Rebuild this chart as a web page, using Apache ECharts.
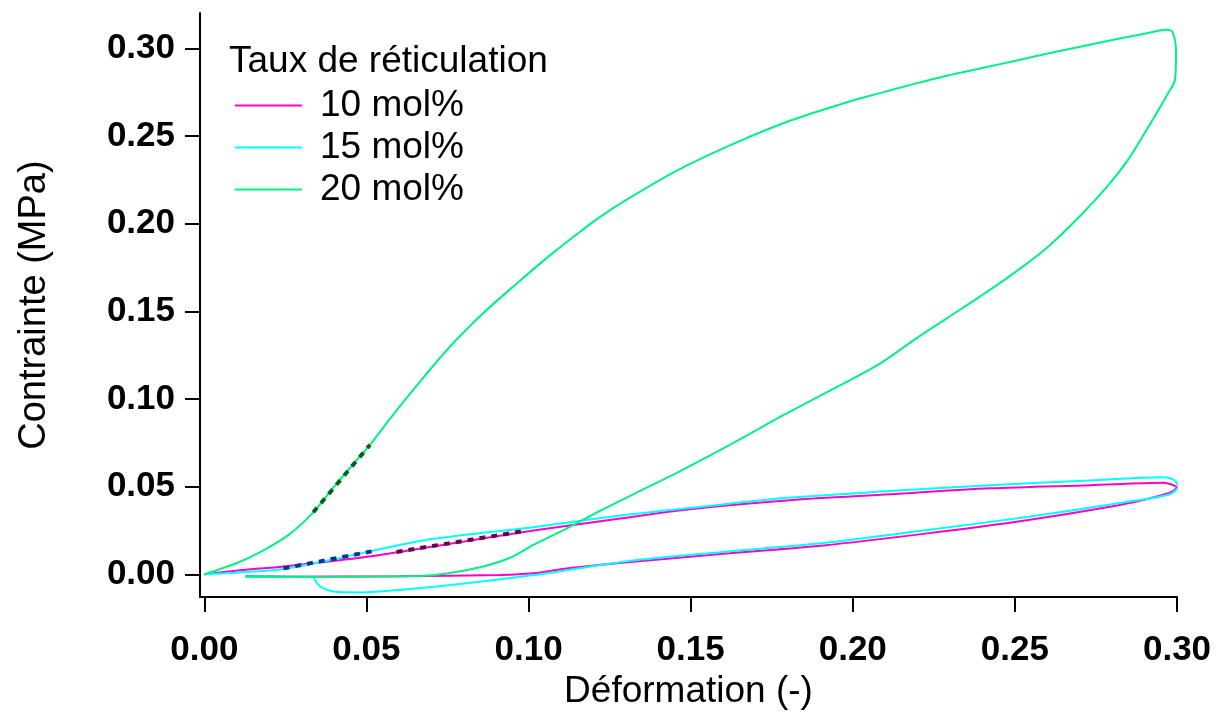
<!DOCTYPE html>
<html>
<head>
<meta charset="utf-8">
<script src="https://cdn.jsdelivr.net/npm/echarts@6/dist/echarts.min.js"></script>
<style>html,body{margin:0;padding:0;background:#fff}#c{width:1217px;height:715px}</style>
</head>
<body>
<div id="c"></div>
<script>
// ---- data (strain, stress MPa) ----
const seriesNames = ['10 mol%', '15 mol%', '20 mol%'];
const xTicks = [0, 0.05, 0.10, 0.15, 0.20, 0.25, 0.30];
const yTicks = [0, 0.05, 0.10, 0.15, 0.20, 0.25, 0.30];

const mol10 = [
  [0,0],[0.011,0.0023],[0.0244,0.0045],[0.0501,0.0100],[0.0758,0.0175],[0.1015,0.0250],
  [0.1272,0.0316],[0.1498,0.0372],[0.1806,0.0423],[0.2115,0.0457],[0.2423,0.0491],
  [0.2732,0.0509],[0.2958,0.0523],[0.2999,0.0495],
  [0.2978,0.0466],[0.2834,0.0400],[0.2526,0.0306],[0.2218,0.0231],[0.1909,0.0165],
  [0.1601,0.0118],[0.1323,0.0072],[0.1118,0.0034],[0.1015,0.0006],[0.0912,-0.0004],
  [0.0604,-0.0011],[0.0295,-0.0013],[0.0126,-0.0010]
];
const mol15 = [
  [0,0],[0.011,0.0011],[0.0244,0.0031],[0.0398,0.0085],[0.0516,0.0134],[0.0706,0.0203],
  [0.1015,0.0269],[0.1272,0.0333],[0.1529,0.0385],[0.1806,0.0438],[0.2115,0.0475],
  [0.2423,0.0509],[0.2732,0.0536],[0.2958,0.0554],[0.2989,0.0541],[0.3004,0.0504],
  [0.2978,0.0457],[0.2834,0.0410],[0.2526,0.0325],[0.2218,0.0250],[0.1909,0.0179],
  [0.1601,0.0128],[0.1323,0.0079],[0.1015,-0.0004],[0.0809,-0.0051],[0.0604,-0.0089],
  [0.0480,-0.0103],[0.0398,-0.0098],[0.0357,-0.0069],[0.0341,-0.0032],[0.0336,-0.0013],
  [0.0233,-0.0013],[0.0126,-0.0011]
];
const mol20 = [
  [0,0],[0.0110,0.0072],[0.0192,0.0147],[0.0264,0.0231],[0.0336,0.0354],[0.0398,0.0495],
  [0.0449,0.0607],[0.0511,0.0739],[0.0573,0.0889],[0.0655,0.1077],[0.0758,0.1300],
  [0.0860,0.1490],[0.0964,0.1660],[0.1066,0.1820],[0.1159,0.1955],[0.1221,0.2040],
  [0.1300,0.2135],[0.1453,0.2300],[0.1630,0.2455],[0.1806,0.2588],[0.1983,0.2694],
  [0.2084,0.2746],[0.2187,0.2797],[0.2290,0.2845],[0.2392,0.2886],[0.2495,0.2928],
  [0.2598,0.2970],[0.2701,0.3011],[0.2804,0.3050],[0.2907,0.3087],[0.2968,0.3107],
  [0.2987,0.3092],[0.2997,0.2976],[0.2994,0.2825],[0.2968,0.2731],[0.2927,0.2600],
  [0.2896,0.2505],[0.2845,0.2355],[0.2783,0.2210],[0.2701,0.2045],[0.2598,0.1862],
  [0.2495,0.1716],[0.2392,0.1585],[0.2290,0.1461],[0.2187,0.1335],[0.2084,0.1203],
  [0.1940,0.1058],[0.1786,0.0908],[0.1632,0.0750],[0.1477,0.0598],[0.1323,0.0457],
  [0.1221,0.0363],[0.1118,0.0262],[0.1015,0.0168],[0.0943,0.0095],[0.0860,0.0045],
  [0.0758,0.0008],[0.0655,-0.0010],[0.0449,-0.0013],[0.0295,-0.0013],[0.0126,-0.0013]
];
// linear fits (dashed)
const fit10 = [[0.0593,0.0128],[0.0994,0.0250]];
const fit15 = [[0.0244,0.0034],[0.0516,0.0131]];
const fit20 = [[0.0336,0.0354],[0.0511,0.0739]];

const colors = ['#ff00cc', '#00ffff', '#00f285'];
const fitColors = ['#5c0a4a', '#0a3296', '#006018'];
const FONT = '"Liberation Sans", Arial, sans-serif';

const chart = echarts.init(document.getElementById('c'), null, {renderer: 'canvas'});

function curve(name, data, color) {
  return {name, type: 'line', data, showSymbol: false, symbol: 'none', smooth: 0.3,
    lineStyle: {color, width: 2}, itemStyle: {color}, z: 2};
}
function fit(data, color) {
  return {type: 'line', data, showSymbol: false, symbol: 'none',
    lineStyle: {color, width: 4, type: [6, 6]}, itemStyle: {color}, z: 5, silent: true};
}

chart.setOption({
  animation: false,
  backgroundColor: '#fff',
  title: {
    text: 'Taux de réticulation', left: 224, top: 38,
    textStyle: {fontFamily: FONT, fontSize: 37, fontWeight: 'normal', color: '#000', lineHeight: 37}
  },
  legend: {
    data: seriesNames, orient: 'vertical', left: 230, top: 82,
    icon: 'rect', itemWidth: 67, itemHeight: 2, itemGap: 5,
    textStyle: {fontFamily: FONT, fontSize: 37, color: '#000', lineHeight: 36, padding: [0, 0, 0, 13]}
  },
  grid: {left: 200, right: 40, top: 13, bottom: 111, containLabel: false},
  xAxis: {
    type: 'value', min: -0.00133, max: 0.30,
    name: 'Déformation (-)', nameLocation: 'middle', nameGap: 74,
    nameTextStyle: {fontFamily: FONT, fontSize: 37, color: '#000'},
    axisLine: {onZero: false, lineStyle: {color: '#000', width: 2}},
    axisTick: {show: true, customValues: xTicks, length: 15, lineStyle: {color: '#000', width: 2}},
    axisLabel: {customValues: xTicks, formatter: v => v.toFixed(2), margin: 36,
      fontFamily: FONT, fontSize: 35, fontWeight: 'bold', color: '#000'},
    splitLine: {show: false}
  },
  yAxis: {
    type: 'value', min: -0.01297, max: 0.3203,
    name: 'Contrainte (MPa)', nameLocation: 'middle', nameGap: 146,
    nameTextStyle: {fontFamily: FONT, fontSize: 38, color: '#000'},
    axisLine: {onZero: false, lineStyle: {color: '#000', width: 2}},
    axisTick: {show: true, customValues: yTicks, length: 15, lineStyle: {color: '#000', width: 2}},
    axisLabel: {customValues: yTicks, formatter: v => v.toFixed(2), margin: 25,
      fontFamily: FONT, fontSize: 35, fontWeight: 'bold', color: '#000'},
    splitLine: {show: false}
  },
  series: [
    curve(seriesNames[0], mol10, colors[0]),
    curve(seriesNames[1], mol15, colors[1]),
    curve(seriesNames[2], mol20, colors[2]),
    fit(fit10, fitColors[0]),
    fit(fit15, fitColors[1]),
    fit(fit20, fitColors[2])
  ]
});
</script>
</body>
</html>
